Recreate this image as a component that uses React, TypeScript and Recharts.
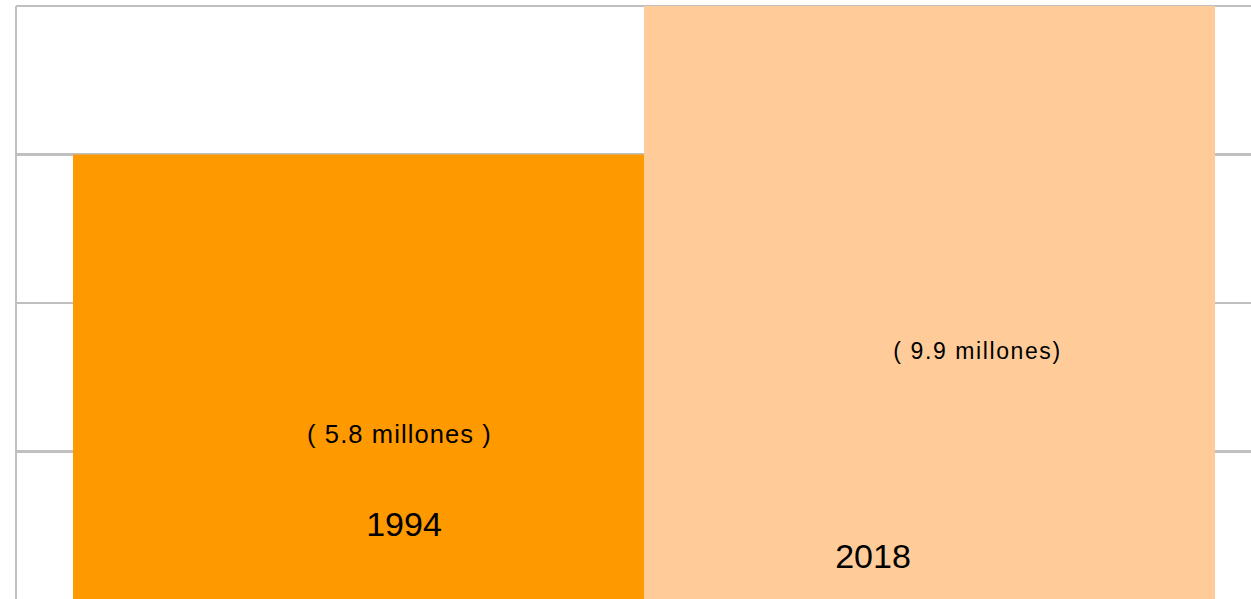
import React from 'react';
import { BarChart, Bar, XAxis, YAxis, CartesianGrid, LabelList } from 'recharts';

// Data (bar heights in gridline units)
const categories = ['Población'];
const years = ['1994', '2018'];
const barValues = [3, 4];
const valueLabels = ['( 5.8 millones )', '( 9.9 millones)'];
const yTicks = [0, 1, 2, 3, 4];

const colors = ['#FF9900', '#FFCC99'];
const GRID = '#c0c0c0';

// label layout (relative to bar centre / bottom)
const labelLayout = [
  { vdx: 41, vdy: -157, vfs: 25.5, vls: 1.1, ydx: 45.5, ydy: -64 },
  { vdx: 48, vdy: -241, vfs: 23, vls: 1.6, ydx: -56.5, ydy: -32 },
];

const data = categories.map((name) => {
  const row: Record<string, string | number> = { name };
  years.forEach((yr, i) => {
    row['y' + yr] = barValues[i];
  });
  return row;
});

const FONT = '"Liberation Sans", Arial, sans-serif';

const makeLabel = (si: number) => (props: any) => {
  const { x, y, width, height } = props;
  const cx = Number(x) + Number(width) / 2;
  const bottom = Number(y) + Number(height);
  const l = labelLayout[si];
  return (
    <g>
      <text
        x={cx + l.vdx}
        y={bottom + l.vdy}
        textAnchor="middle"
        fontFamily={FONT}
        fontSize={l.vfs}
        letterSpacing={l.vls}
        fill="#000"
      >
        {valueLabels[si]}
      </text>
      <text
        x={cx + l.ydx}
        y={bottom + l.ydy}
        textAnchor="middle"
        fontFamily={FONT}
        fontSize={34}
        fill="#000"
      >
        {years[si]}
      </text>
    </g>
  );
};

const gridGen = (props: any) => {
  const s = props?.yAxis?.scale;
  if (s && typeof s === 'function') return yTicks.map((t) => s(t));
  if (s && typeof s.map === 'function') return yTicks.map((t) => s.map(t));
  return [];
};

export default function App() {
  return (
    <div
      style={{
        position: 'absolute',
        left: 0,
        top: 0,
        width: 1251,
        height: 599,
        overflow: 'hidden',
        background: '#fff',
      }}
    >
      <BarChart
        width={1272}
        height={610}
        data={data}
        margin={{ top: 6, right: 0, left: 15, bottom: 10 }}
        barGap={0}
      >
        <CartesianGrid
          vertical={false}
          stroke={GRID}
          strokeWidth={2.5}
          shapeRendering="crispEdges"
          horizontalCoordinatesGenerator={gridGen}
        />
        <XAxis dataKey="name" hide />
        <YAxis
          domain={[0, 4]}
          ticks={yTicks}
          width={1}
          tick={{ fontSize: 0 }}
          tickFormatter={() => ''}
          tickLine={false}
          axisLine={{ stroke: GRID, strokeWidth: 2.5, shapeRendering: 'crispEdges' }}
        />
        {years.map((yr, i) => (
          <Bar
            key={yr}
            dataKey={'y' + yr}
            fill={colors[i]}
            barSize={571}
            isAnimationActive={false}
          >
            <LabelList content={makeLabel(i)} />
          </Bar>
        ))}
      </BarChart>
    </div>
  );
}
